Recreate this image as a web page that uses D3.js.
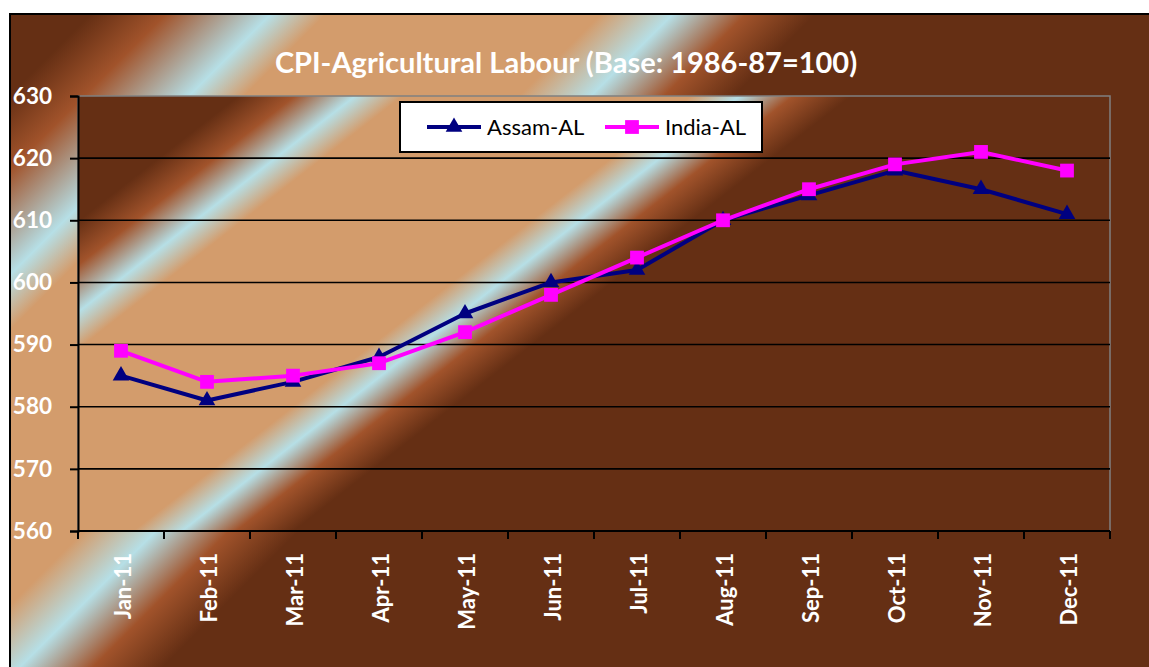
<!DOCTYPE html>
<html>
<head>
<meta charset="utf-8">
<script src="https://cdn.jsdelivr.net/npm/d3@7"></script>
<style>
    html, body { margin: 0; padding: 0; background: #fff; }
    svg { display: block; }
    text { font-family: Lato, "Open Sans", sans-serif; }
</style>
</head>
<body>
<div id="chart"></div>
<script>
// Chart data
const months = ['Jan-11', 'Feb-11', 'Mar-11', 'Apr-11', 'May-11', 'Jun-11',
                'Jul-11', 'Aug-11', 'Sep-11', 'Oct-11', 'Nov-11', 'Dec-11'];
const assamAL = [585, 581, 584, 588, 595, 600, 602, 610, 614, 618, 615, 611];
const indiaAL = [589, 584, 585, 587, 592, 598, 604, 610, 615, 619, 621, 618];
const yTicks = [560, 570, 580, 590, 600, 610, 620, 630];
const seriesNames = ['Assam-AL', 'India-AL'];

const width = 1149;
const height = 667;

// Plot area box
const plot = { left: 78, top: 96, right: 1110, bottom: 531 };

const svg = d3.select('#chart')
    .append('svg')
    .attr('width', width)
    .attr('height', height);

const defs = svg.append('defs');

// Colours of the brown / pale blue striped fill
const dark = '#652f14';
const rust = '#a1532b';
const pale = '#b6dfe6';
const tan = '#d39c6c';

// Chart area gradient, stripes run along x + y = const
const chartStops = [[24, dark], [105, dark], [180, rust], [285, pale], [340, tan],
                    [615, tan], [687, pale], [760, rust], [830, dark], [1816, dark]];
const chartGrad = defs.append('linearGradient')
    .attr('id', 'chartFill')
    .attr('gradientUnits', 'userSpaceOnUse')
    .attr('x1', 0).attr('y1', 0)
    .attr('x2', 908).attr('y2', 908);
chartGrad.selectAll('stop')
    .data(chartStops)
    .enter()
    .append('stop')
    .attr('offset', d => d[0] / 1816)
    .attr('stop-color', d => d[1]);

// Plot area gradient, a bit flatter (0.78x + y = const)
const plotStops = [[157, dark], [282, dark], [326, rust], [373, pale], [410, tan],
                   [635, tan], [673, pale], [715, rust], [760, dark], [1400, dark]];
const k = 1400 / (0.78 * 0.78 + 1);
const plotGrad = defs.append('linearGradient')
    .attr('id', 'plotFill')
    .attr('gradientUnits', 'userSpaceOnUse')
    .attr('x1', 0).attr('y1', 0)
    .attr('x2', 0.78 * k).attr('y2', k);
plotGrad.selectAll('stop')
    .data(plotStops)
    .enter()
    .append('stop')
    .attr('offset', d => d[0] / 1400)
    .attr('stop-color', d => d[1]);

// Chart area background with border
svg.append('rect')
    .attr('x', 10).attr('y', 14)
    .attr('width', width + 20).attr('height', height + 20)
    .attr('fill', 'url(#chartFill)')
    .attr('stroke', '#000')
    .attr('stroke-width', 2);

// Plot area background
svg.append('rect')
    .attr('x', plot.left).attr('y', plot.top)
    .attr('width', plot.right - plot.left)
    .attr('height', plot.bottom - plot.top)
    .attr('fill', 'url(#plotFill)')
    .attr('stroke', '#808080')
    .attr('stroke-width', 1.5);

// Scales
const x = d3.scaleBand()
    .domain(months)
    .range([plot.left, plot.right]);

const y = d3.scaleLinear()
    .domain([560, 630])
    .range([plot.bottom, plot.top]);

// Gridlines
svg.append('g')
    .selectAll('line')
    .data(yTicks.filter(t => t > 560 && t < 630))
    .enter()
    .append('line')
    .attr('x1', plot.left).attr('x2', plot.right)
    .attr('y1', d => y(d)).attr('y2', d => y(d))
    .attr('stroke', '#000')
    .attr('stroke-width', 1.6);

// Y axis
const yAxis = svg.append('g')
    .attr('transform', `translate(${plot.left},0)`)
    .call(d3.axisLeft(y).tickValues(yTicks).tickSize(8).tickPadding(18).tickFormat(d3.format('d')));
yAxis.select('.domain').attr('stroke', '#000').attr('stroke-width', 2);
yAxis.selectAll('.tick line').attr('stroke', '#000').attr('stroke-width', 2);
yAxis.selectAll('.tick text')
    .attr('fill', '#fff')
    .style('font-size', '22.5px')
    .style('font-weight', 'bold');

// X axis, ticks on band boundaries
const xAxisG = svg.append('g')
    .attr('transform', `translate(0,${plot.bottom})`);
xAxisG.append('line')
    .attr('x1', plot.left).attr('x2', plot.right)
    .attr('stroke', '#000').attr('stroke-width', 2);
xAxisG.selectAll('.bound')
    .data(months.concat(['end']))
    .enter()
    .append('line')
    .attr('class', 'bound')
    .attr('x1', (d, i) => i < months.length ? x(d) : plot.right)
    .attr('x2', (d, i) => i < months.length ? x(d) : plot.right)
    .attr('y1', 0).attr('y2', 8)
    .attr('stroke', '#000').attr('stroke-width', 2);
xAxisG.selectAll('.lbl')
    .data(months)
    .enter()
    .append('text')
    .attr('class', 'lbl')
    .attr('transform', d => `translate(${x(d) + x.bandwidth() / 2 + 2},22) rotate(-90)`)
    .attr('text-anchor', 'end')
    .attr('dy', '0.36em')
    .attr('fill', '#fff')
    .style('font-size', '22px')
    .style('font-weight', 'bold')
    .text(d => d);

// Series lines and markers
const line = d3.line()
    .x((d, i) => x(months[i]) + x.bandwidth() / 2)
    .y(d => y(d));

const series = [
    { name: seriesNames[0], values: assamAL, color: '#000080', symbol: d3.symbolTriangle, size: 120 },
    { name: seriesNames[1], values: indiaAL, color: '#ff00ff', symbol: d3.symbolSquare, size: 190 }
];

series.forEach(s => {
    svg.append('path')
        .datum(s.values)
        .attr('d', line)
        .attr('fill', 'none')
        .attr('stroke', s.color)
        .attr('stroke-width', 4)
        .attr('stroke-linejoin', 'round');

    svg.append('g')
        .selectAll('path')
        .data(s.values)
        .enter()
        .append('path')
        .attr('transform', (d, i) => `translate(${x(months[i]) + x.bandwidth() / 2},${y(d)})`)
        .attr('d', d3.symbol().type(s.symbol).size(s.size))
        .attr('fill', s.color);
});

// Title, fitted to the width seen in the reference
const title = svg.append('text')
    .attr('x', 566)
    .attr('y', 73)
    .attr('text-anchor', 'middle')
    .attr('fill', '#fff')
    .style('font-size', '26px')
    .style('font-weight', 'bold')
    .text('CPI-Agricultural Labour (Base: 1986-87=100)');
const tw = title.node().getComputedTextLength();
title.style('font-size', (26 * 582 / tw).toFixed(1) + 'px');

// Legend
const legend = svg.append('g');
legend.append('rect')
    .attr('x', 400).attr('y', 102)
    .attr('width', 362).attr('height', 50)
    .attr('fill', '#fff')
    .attr('stroke', '#000')
    .attr('stroke-width', 2);

const legendX = [427, 605];
series.forEach((s, i) => {
    const lx = legendX[i];
    legend.append('line')
        .attr('x1', lx).attr('x2', lx + 54)
        .attr('y1', 127).attr('y2', 127)
        .attr('stroke', s.color)
        .attr('stroke-width', 4);
    legend.append('path')
        .attr('transform', `translate(${lx + 27},127)`)
        .attr('d', d3.symbol().type(s.symbol).size(s.size))
        .attr('fill', s.color);
    legend.append('text')
        .attr('x', lx + 60)
        .attr('y', 127)
        .attr('dy', '0.36em')
        .attr('fill', '#000')
        .style('font-size', '22px')
        .text(s.name);
});
</script>
</body>
</html>
